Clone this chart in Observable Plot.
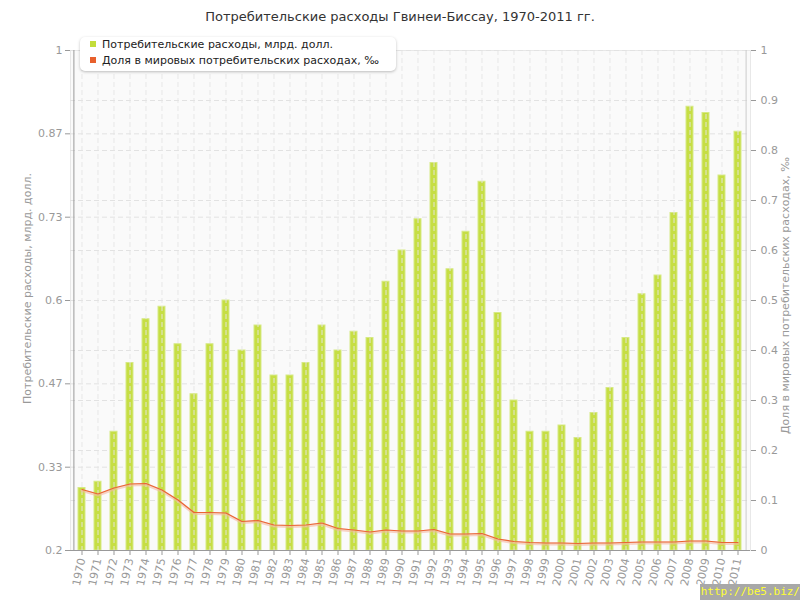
<!DOCTYPE html>
<html>
<head>
<meta charset="utf-8">
<script src="https://cdn.jsdelivr.net/npm/d3@7"></script>
<script src="https://cdn.jsdelivr.net/npm/@observablehq/plot@0.6"></script>
<style>
  body { margin: 0; background: #fff; }
  #wrap { position: relative; width: 800px; height: 600px; font-family: "DejaVu Sans", sans-serif; }
  #title { position: absolute; left: 0; width: 800px; top: 9px; text-align: center; font-size: 13px; color: #333; }
  #legend { position: absolute; left: 80px; top: 37px; width: 316px; height: 34px; background: #fff; border-radius: 5px;
            box-shadow: 0 1px 3px rgba(0,0,0,0.25); font-size: 11px; color: #222; }
  .li { position: absolute; left: 10px; white-space: nowrap; }
  .sw { display: inline-block; width: 6px; height: 6px; margin-right: 6px; vertical-align: 1px; }
  #wm { position: absolute; left: 700px; top: 584px; width: 100px; height: 16px; background: #a8a8a8; color: #ffff33;
        font-family: "DejaVu Sans Mono", monospace; font-size: 11px; line-height: 16px; text-align: right; overflow: hidden; white-space: nowrap; }
  svg { position: absolute; left: 0; top: 0; }
</style>
</head>
<body>
<div id="wrap">
  <div id="chart"></div>
  <div id="title"></div>
  <div id="legend"></div>
  <div id="wm">http://be5.biz/</div>
</div>
<script>
const titleText = "Потребительские расходы Гвинеи-Биссау, 1970-2011 гг.";
const seriesNames = ["Потребительские расходы, млрд. долл.", "Доля в мировых потребительских расходах, ‰"];
const seriesColors = ["#c3dd3a", "#e8602c"];

const years = [1970,1971,1972,1973,1974,1975,1976,1977,1978,1979,
               1980,1981,1982,1983,1984,1985,1986,1987,1988,1989,
               1990,1991,1992,1993,1994,1995,1996,1997,1998,1999,
               2000,2001,2002,2003,2004,2005,2006,2007,2008,2009,
               2010,2011];
const spending = [0.30,0.31,0.39,0.50,0.57,0.59,0.53,0.45,0.53,0.60,
                  0.52,0.56,0.48,0.48,0.50,0.56,0.52,0.55,0.54,0.63,
                  0.68,0.73,0.82,0.65,0.71,0.79,0.58,0.44,0.39,0.39,
                  0.40,0.38,0.42,0.46,0.54,0.61,0.64,0.74,0.91,0.90,
                  0.80,0.87];
const share = [0.122,0.113,0.125,0.133,0.134,0.121,0.101,0.076,0.076,0.075,
               0.058,0.060,0.051,0.050,0.051,0.055,0.044,0.041,0.037,0.041,
               0.039,0.039,0.042,0.033,0.033,0.034,0.023,0.018,0.016,0.015,
               0.015,0.014,0.015,0.015,0.016,0.017,0.017,0.017,0.019,0.019,
               0.016,0.016];
const leftTicks = [0.2, 0.3333, 0.4667, 0.6, 0.7333, 0.8667, 1];
const leftTickLabels = ["0.2","0.33","0.47","0.6","0.73","0.87","1"];
const rightTicks = [0,0.1,0.2,0.3,0.4,0.5,0.6,0.7,0.8,0.9,1];
const leftLabel = "Потребительские расходы, млрд. долл.";
const rightLabel = "Доля в мировых потребительских расходах, ‰";

// left domain [0.2, 1]; right domain [0, 1] mapped onto the left one
const yMin = 0.2, yMax = 1, rMax = 1;
const toLeft = v => yMin + v / rMax * (yMax - yMin);

const data = years.map((y, i) => ({year: y, spend: spending[i], share: toLeft(share[i])}));

document.getElementById("title").textContent = titleText;
document.getElementById("legend").innerHTML = seriesNames.map((n, i) =>
  `<div class="li" style="top:${i === 0 ? 1 : 17}px"><span class="sw" style="background:${seriesColors[i]}"></span>${n}</div>`).join("");

const W = 800, mL = 70, mR = 50;
const step = (W - mL - mR) / years.length;
const grid = "#e2e2e2";
const chart = Plot.plot({
  width: W, height: 600,
  marginTop: 50, marginBottom: 50, marginLeft: mL, marginRight: mR,
  style: {fontFamily: "DejaVu Sans, sans-serif", fontSize: "11px", color: "#999", background: "transparent"},
  x: {type: "band", domain: years, paddingInner: 0.56, paddingOuter: 0.28, align: 0.5},
  y: {domain: [yMin, yMax]},
  marks: [
    Plot.frame({fill: "#fafafa", stroke: "#e8e8e8"}),
    Plot.ruleY(leftTicks, {stroke: grid, strokeDasharray: "5,3"}),
    Plot.ruleY(rightTicks.map(toLeft), {stroke: grid, strokeDasharray: "5,3"}),
    Plot.barY(data, {x: "year", y1: yMin, y2: "spend", fill: "#c6de44", stroke: "#d6e985", strokeWidth: 1}),
    Plot.ruleX(years, {x: d => d, stroke: "#e6e6e6", strokeOpacity: 0.9, strokeDasharray: "5,3"}),
    Plot.line(data, {x: "year", y: "share", stroke: "#f5b8a0", strokeWidth: 3, strokeOpacity: 0.6, dy: 1}),
    Plot.line(data, {x: "year", y: "share", stroke: "#ea6434", strokeWidth: 1.2}),
    Plot.ruleX([years[0]], {dx: -step / 2, y1: yMin, y2: yMax, stroke: "#999"}),
    Plot.ruleX([years[years.length - 1]], {dx: step / 2, y1: yMin, y2: yMax, stroke: "#ccc"}),
    Plot.ruleY([yMin], {stroke: "#999"}),
    Plot.axisY({anchor: "left", ticks: leftTicks, tickFormat: d => leftTickLabels[leftTicks.indexOf(d)],
                tickSize: 5, tickPadding: 3, stroke: "#999", fill: "#999", label: null}),
    Plot.axisY({anchor: "right", ticks: rightTicks.map(toLeft), tickFormat: d => String(+((d - yMin) / (yMax - yMin) * rMax).toFixed(1)),
                tickSize: 5, tickPadding: 5, stroke: "#999", fill: "#999", label: null}),
    Plot.axisX({tickRotate: -78, tickFormat: d => String(d), tickSize: 5, tickPadding: 3, stroke: "#999", fill: "#999", label: null, fontSize: 11}),
    Plot.text([leftLabel], {frameAnchor: "left", textAnchor: "middle", dx: -43, dy: -12, rotate: -90, fill: "#999", fontSize: 11}),
    Plot.text([rightLabel], {frameAnchor: "right", textAnchor: "middle", dx: 35, dy: -5, rotate: -90, fill: "#999", fontSize: 11})
  ]
});
document.getElementById("chart").appendChild(chart);
</script>
</body>
</html>
